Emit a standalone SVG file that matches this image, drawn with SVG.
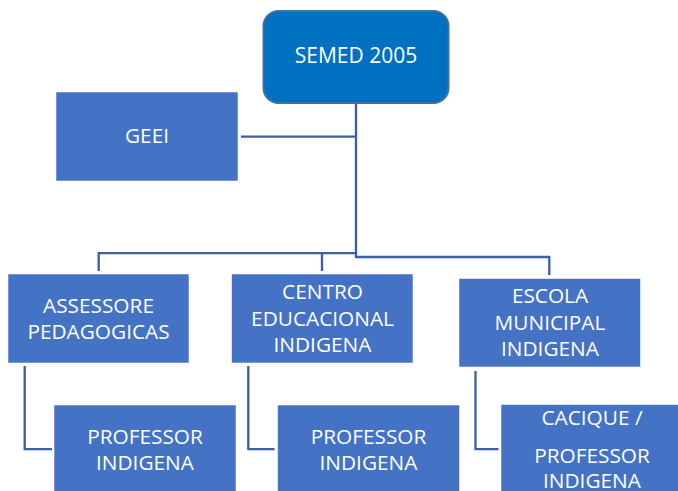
<svg xmlns="http://www.w3.org/2000/svg" width="678" height="491" viewBox="0 0 678 491">
<style>
.box{fill:#4472C4;stroke:#ffffff;stroke-opacity:0.55;stroke-width:1}
.root{fill:#0070C0;stroke:#41719C;stroke-width:2}
.lbl{font-family:"Open Sans","DejaVu Sans",sans-serif;font-size:20.8px;fill:#ffffff;text-anchor:middle}
.conn{fill:none;stroke:#3B5FA3;stroke-width:2.3}
</style>
<rect width="678" height="491" fill="#ffffff"/>
<g id="connectors">
<path class="conn" d="M356 104 V257 H549.3 V275"/>
<path class="conn" d="M98.7 271 V253.2 H356"/>
<path class="conn" d="M322 253.2 V271"/>
<path class="conn" d="M241 136.6 H356"/>
<path class="conn" d="M24.7 366 V449.2 H52"/>
<path class="conn" d="M248.3 366 V449.2 H274.5"/>
<path class="conn" d="M475.5 371 V449.2 H498.5"/>
</g>
<g id="semed">
<rect class="root" x="263.5" y="11" width="185" height="92" rx="15"/>
<text class="lbl" x="356" y="63" style="font-size:21px">SEMED 2005</text>
</g>
<g id="geei">
<rect class="box" x="56" y="92" width="182" height="89"/>
<text class="lbl" x="147" y="143">GEEI</text>
</g>
<g id="assessore">
<rect class="box" x="8" y="274" width="181" height="89"/>
<text class="lbl" x="98.5" y="313">ASSESSORE</text>
<text class="lbl" x="98.5" y="339">PEDAGOGICAS</text>
</g>
<g id="centro">
<rect class="box" x="231.5" y="274" width="181.5" height="89"/>
<text class="lbl" x="322.5" y="299">CENTRO</text>
<text class="lbl" x="322.5" y="325.5">EDUCACIONAL</text>
<text class="lbl" x="322.5" y="351.5">INDIGENA</text>
</g>
<g id="escola">
<rect class="box" x="459" y="278.5" width="181.5" height="88.5"/>
<text class="lbl" x="550" y="302.7">ESCOLA</text>
<text class="lbl" x="550" y="330">MUNICIPAL</text>
<text class="lbl" x="550" y="356">INDIGENA</text>
</g>
<g id="professor1">
<rect class="box" x="54" y="405" width="182" height="90"/>
<text class="lbl" x="145" y="444">PROFESSOR</text>
<text class="lbl" x="145" y="470">INDIGENA</text>
</g>
<g id="professor2">
<rect class="box" x="277.5" y="405" width="182" height="90"/>
<text class="lbl" x="368.5" y="444">PROFESSOR</text>
<text class="lbl" x="368.5" y="470">INDIGENA</text>
</g>
<g id="cacique">
<rect class="box" x="501" y="404.5" width="182" height="90"/>
<text class="lbl" x="592" y="425">CACIQUE /</text>
<text class="lbl" x="592" y="462.7">PROFESSOR</text>
<text class="lbl" x="592" y="487.5">INDIGENA</text>
</g>
</svg>
